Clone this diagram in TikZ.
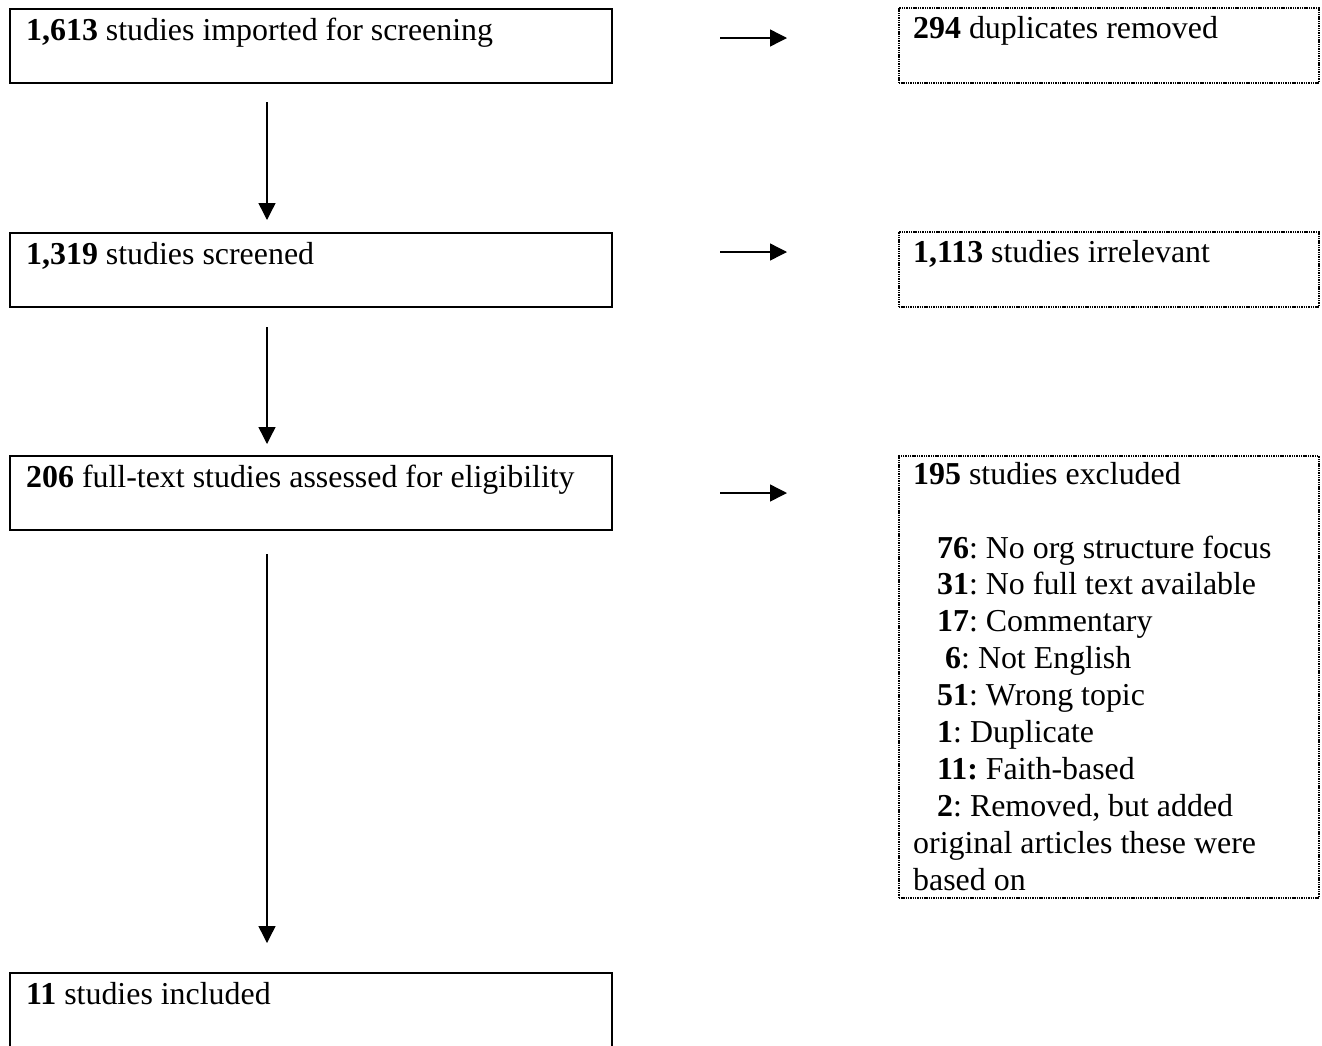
\documentclass[tikz,border=0pt]{standalone}
\usepackage{fontspec}
\setmainfont{Liberation Serif}
\usetikzlibrary{arrows.meta,calc}
\frenchspacing
\tikzset{
 solidbox/.style={draw=black, line width=2pt, minimum width=602pt, minimum height=74pt, anchor=north west, inner sep=0pt},
 dotbox/.style={draw=black, line width=1.6pt, dash pattern=on 1.4pt off 0.9pt, anchor=north west, inner sep=0pt, minimum width=420pt},
 txt/.style={anchor=base west, inner sep=0pt, font=\fontsize{31.9}{36.9}\selectfont},
 flow/.style={line width=1.4pt, -{Triangle[length=17pt,width=17pt]}},
}
\begin{document}
\begin{tikzpicture}[x=1pt,y=-1pt]
\clip (0,0) rectangle (1322,1045);
\fill[white] (0,0) rectangle (1322,1045);
% left column
\node[solidbox] (b1) at (9,8) {};
\node[solidbox] (b2) at (9,232) {};
\node[solidbox] (b3) at (9,455) {};
\node[solidbox, minimum height=120pt] (b4) at (9,972) {};
\node[txt] (t1) at ($(b1.north west)+(17,32)$) {\textbf{1,613} studies imported for screening};
\node[txt] (t2) at ($(b2.north west)+(17,32)$) {\textbf{1,319} studies screened};
\node[txt] (t3) at ($(b3.north west)+(17,32)$) {\textbf{206} full-text studies assessed for eligibility};
\node[txt] (t4) at ($(b4.north west)+(17,32)$) {\textbf{11} studies included};
% right column
\node[dotbox, minimum height=75pt] (r1) at (898,7) {};
\node[dotbox, minimum height=75pt] (r2) at (898,231) {};
\node[dotbox, minimum height=442pt] (r3) at (898,455) {};
\node[txt] (s1) at ($(r1.north west)+(15,31)$) {\textbf{294} duplicates removed};
\node[txt] (s2) at ($(r2.north west)+(15,31)$) {\textbf{1,113} studies irrelevant};
\node[txt] (s3) at ($(r3.north west)+(15,29)$) {\textbf{195} studies excluded};
\node[txt] (l1) at (937,558.0) {\textbf{76}: No org structure focus};
\node[txt] (l2) at (937,594.9) {\textbf{31}: No full text available};
\node[txt] (l3) at (937,631.8) {\textbf{17}: Commentary};
\node[txt] (l4) at (945,668.7) {\textbf{6}: Not English};
\node[txt] (l5) at (937,705.6) {\textbf{51}: Wrong topic};
\node[txt] (l6) at (937,742.5) {\textbf{1}: Duplicate};
\node[txt] (l7) at (937,779.4) {\textbf{11:} Faith-based};
\node[txt] (l8) at (937,816.3) {\textbf{2}: Removed, but added};
\node[txt] (l9) at (913,853.2) {original articles these were};
\node[txt] (l10) at (913,890.1) {based on};
% vertical connectors
\draw[flow] ($(b1.south west)+(258,18)$) -- ($(b2.north west)+(258,-12)$);
\draw[flow] ($(b2.south west)+(258,19)$) -- ($(b3.north west)+(258,-11)$);
\draw[flow] ($(b3.south west)+(258,23)$) -- ($(b4.north west)+(258,-29)$);
% horizontal connectors
\draw[flow] ($(b1.north east)+(107,30)$) -- ($(r1.north west)+(-111,31)$);
\draw[flow] ($(b2.north east)+(107,20)$) -- ($(r2.north west)+(-111,21)$);
\draw[flow] ($(b3.north east)+(107,38)$) -- ($(r3.north west)+(-111,38)$);
\end{tikzpicture}
\end{document}
